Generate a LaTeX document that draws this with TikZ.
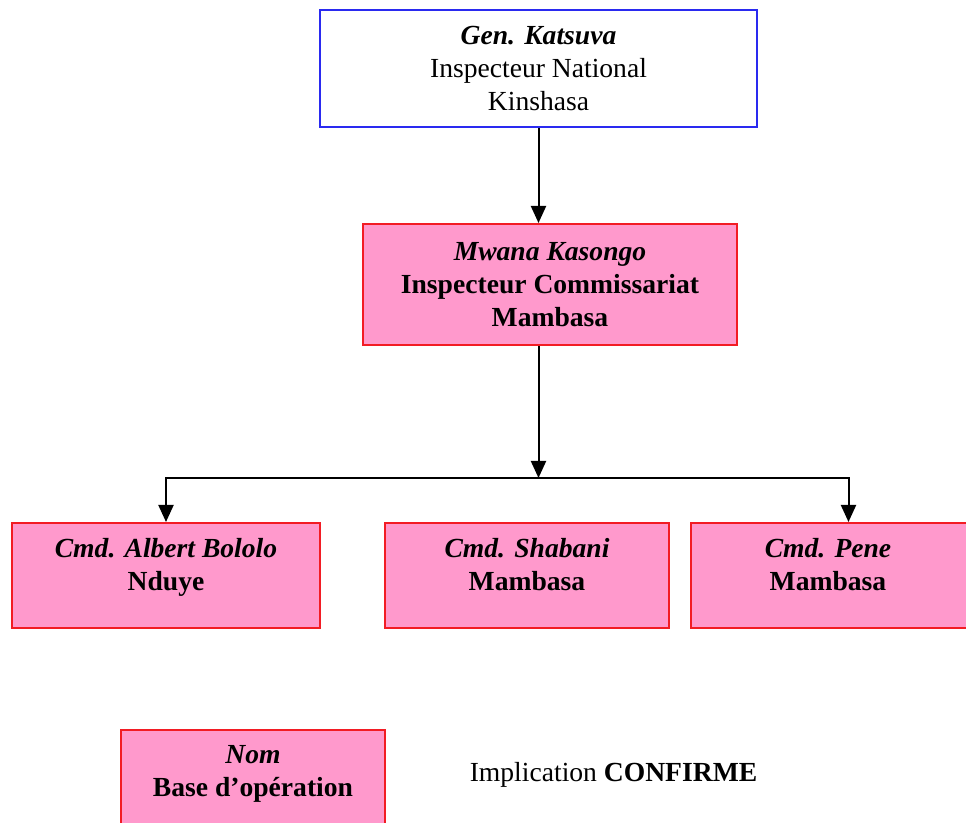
\documentclass[tikz,border=0pt]{standalone}
\usepackage{fontspec}
\setmainfont{Liberation Serif}
\usetikzlibrary{calc,positioning,arrows.meta}
\definecolor{rose}{HTML}{FF99CC}
\definecolor{redline}{HTML}{F21C24}
\definecolor{blueline}{HTML}{2A2AF0}
\tikzstyle{entry}=[draw=blueline, line width=1pt, align=center, minimum width=218.5pt, minimum height=58.5pt]
\tikzstyle{unit} = [entry, draw=redline, fill=rose, minimum width=187pt, minimum height=60.5pt]
\tikzstyle{cmd} = [unit, minimum height=52.5pt]
\tikzstyle{arr} = [-{Triangle[length=8.5pt,width=7.5pt]}, line width=1pt]

\begin{document}
\begin{tikzpicture}[font=\fontsize{13.8}{16.5}\selectfont]
\useasboundingbox (0,0) rectangle (483pt,-411.5pt);

\node (nat) at (269.25pt,-34.25pt) [entry] {\textbf{\textit{Gen. Katsuva}}\\Inspecteur National\\Kinshasa};
\node (insp) at ([xshift=5.75pt,yshift=-108pt]nat) [unit] {\textbf{\textit{Mwana Kasongo}}\\\textbf{Inspecteur Commissariat}\\\textbf{Mambasa}};

\node (bololo) at (83pt,-287.75pt) [cmd, minimum width=154pt] {};
\node [below, yshift=-4.5pt, align=center] at (bololo.north) {\textbf{\textit{Cmd. Albert Bololo}}\\\textbf{Nduye}};
\node (shabani) at ([xshift=180.5pt]bololo) [cmd, minimum width=142pt] {};
\node [below, yshift=-4.5pt, align=center] at (shabani.north) {\textbf{\textit{Cmd. Shabani}}\\\textbf{Mambasa}};
\node (pene) at ([xshift=151.5pt]shabani) [cmd, minimum width=139pt] {};
\node [below, yshift=-4.5pt, align=center] at ([xshift=-1pt]pene.north) {\textbf{\textit{Cmd. Pene}}\\\textbf{Mambasa}};

% legende
\node (legend) at (126.5pt,-390pt) [cmd, minimum width=132pt, minimum height=50pt] {};
\node [below, yshift=-4.5pt, align=center] at (legend.north) {\textbf{\textit{Nom}}\\\textbf{Base d’opération}};
\node (impl) at (306.75pt,-387.5pt) {Implication \textbf{CONFIRME}};

\coordinate (junc) at ($(nat |- insp.south)+(0,-66pt)$);
\coordinate (pj) at ([xshift=9.25pt]pene.north);

\draw [arr] (nat) -- (nat |- insp.north);
\draw [arr] (nat |- insp.south) -- (junc);
\draw [arr] (junc) -| (bololo.north);
\draw [arr] (junc) -| (pj);

\end{tikzpicture}
\end{document}
